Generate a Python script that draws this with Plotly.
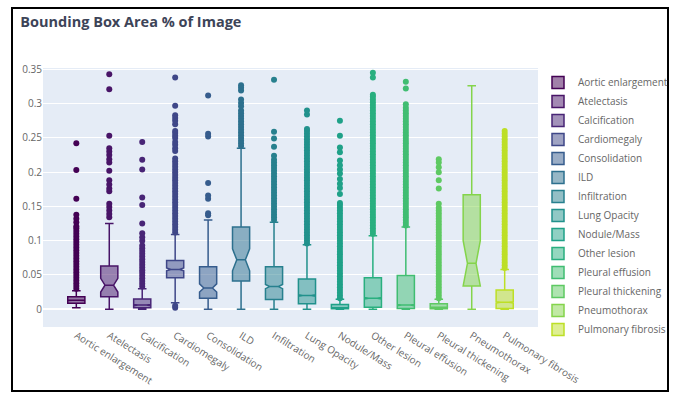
import plotly.graph_objects as go

categories = ["Aortic enlargement", "Atelectasis", "Calcification", "Cardiomegaly",
              "Consolidation", "ILD", "Infiltration", "Lung Opacity", "Nodule/Mass",
              "Other lesion", "Pleural effusion", "Pleural thickening", "Pneumothorax",
              "Pulmonary fibrosis"]

q1_vals = [0.0085, 0.018, 0.002, 0.046, 0.016, 0.041, 0.014, 0.008, 0.0005, 0.003, 0.001, 0.0005, 0.034, 0.001]
median_vals = [0.013, 0.035, 0.006, 0.058, 0.031, 0.072, 0.033, 0.020, 0.002, 0.016, 0.006, 0.003, 0.067, 0.010]
q3_vals = [0.018, 0.063, 0.015, 0.071, 0.062, 0.120, 0.062, 0.044, 0.007, 0.046, 0.049, 0.008, 0.167, 0.028]
lower_fences = [0.002, 0.0, 0.0, 0.0095, 0.0, 0.0, 0.0, 0.0, 0.0, 0.0, 0.0, 0.0, 0.0, 0.0]
upper_fences = [0.027, 0.125, 0.030, 0.109, 0.130, 0.235, 0.127, 0.094, 0.0145, 0.107, 0.120, 0.0145, 0.326, 0.058]
notch_spans = [0.0005, 0.010, 0.001, 0.002, 0.006, 0.016, 0.003, 0.001, 0.0003, 0.001, 0.001, 0.0003, 0.033, 0.001]

outliers_aortic = [0.030, 0.034, 0.038, 0.042, 0.046, 0.050, 0.054, 0.058, 0.062, 0.066, 0.070,
                   0.074, 0.078, 0.082, 0.086, 0.090, 0.094, 0.098, 0.102, 0.106, 0.110, 0.114,
                   0.118, 0.121, 0.127, 0.132, 0.138, 0.161, 0.203, 0.242]
outliers_atelectasis = [0.134, 0.139, 0.144, 0.149, 0.154, 0.172, 0.176, 0.182, 0.188, 0.202,
                        0.214, 0.219, 0.225, 0.230, 0.235, 0.253, 0.321, 0.343]
outliers_calcification = [0.033, 0.037, 0.041, 0.045, 0.049, 0.053, 0.057, 0.061, 0.065, 0.069,
                          0.073, 0.077, 0.081, 0.085, 0.089, 0.093, 0.100, 0.105, 0.111, 0.125,
                          0.152, 0.163, 0.204, 0.218, 0.244]
outliers_cardiomegaly = [0.002, 0.005, 0.112, 0.116, 0.120, 0.124, 0.128, 0.132, 0.136, 0.140,
                         0.144, 0.148, 0.152, 0.156, 0.160, 0.164, 0.168, 0.172, 0.176, 0.180,
                         0.184, 0.188, 0.192, 0.196, 0.200, 0.204, 0.208, 0.212, 0.216, 0.220,
                         0.231, 0.235, 0.240, 0.244, 0.250, 0.253, 0.257, 0.260, 0.270, 0.275,
                         0.279, 0.283, 0.297, 0.338]
outliers_consolidation = [0.137, 0.140, 0.161, 0.166, 0.184, 0.252, 0.256, 0.312]
outliers_ild = [0.238, 0.242, 0.246, 0.250, 0.254, 0.258, 0.262, 0.266, 0.270, 0.274, 0.278,
                0.282, 0.286, 0.290, 0.296, 0.301, 0.306, 0.319, 0.323, 0.327]
outliers_infiltration = [0.130, 0.134, 0.138, 0.142, 0.146, 0.150, 0.154, 0.158, 0.162, 0.166,
                         0.170, 0.174, 0.178, 0.182, 0.186, 0.190, 0.194, 0.198, 0.202, 0.206,
                         0.210, 0.214, 0.218, 0.224, 0.237, 0.249, 0.259, 0.335]
outliers_lung_opacity = [0.096, 0.100, 0.104, 0.108, 0.112, 0.116, 0.120, 0.124, 0.128, 0.132,
                         0.136, 0.140, 0.144, 0.148, 0.152, 0.156, 0.160, 0.164, 0.168, 0.172,
                         0.176, 0.180, 0.184, 0.188, 0.192, 0.196, 0.200, 0.204, 0.208, 0.212,
                         0.216, 0.220, 0.224, 0.228, 0.232, 0.236, 0.240, 0.244, 0.248, 0.252,
                         0.256, 0.260, 0.263, 0.284, 0.290]
outliers_nodule = [0.016, 0.020, 0.024, 0.028, 0.032, 0.036, 0.040, 0.044, 0.048, 0.052, 0.056,
                   0.060, 0.064, 0.068, 0.072, 0.076, 0.080, 0.084, 0.088, 0.092, 0.096, 0.100,
                   0.104, 0.108, 0.112, 0.116, 0.120, 0.124, 0.128, 0.132, 0.136, 0.140, 0.144,
                   0.148, 0.152, 0.155, 0.168, 0.177, 0.183, 0.190, 0.198, 0.204, 0.210, 0.217,
                   0.229, 0.236, 0.253, 0.275]
outliers_other_lesion = [0.110, 0.114, 0.118, 0.122, 0.126, 0.130, 0.134, 0.138, 0.142, 0.146,
                         0.150, 0.154, 0.158, 0.162, 0.166, 0.170, 0.174, 0.178, 0.182, 0.186,
                         0.190, 0.194, 0.198, 0.202, 0.206, 0.210, 0.214, 0.218, 0.222, 0.226,
                         0.230, 0.234, 0.238, 0.242, 0.246, 0.250, 0.254, 0.258, 0.262, 0.266,
                         0.270, 0.274, 0.278, 0.282, 0.286, 0.290, 0.294, 0.298, 0.302, 0.306,
                         0.310, 0.313, 0.338, 0.345]
outliers_pleural_effusion = [0.122, 0.126, 0.130, 0.134, 0.138, 0.142, 0.146, 0.150, 0.154,
                             0.158, 0.162, 0.166, 0.170, 0.174, 0.178, 0.182, 0.186, 0.190,
                             0.194, 0.198, 0.202, 0.206, 0.210, 0.214, 0.218, 0.222, 0.226,
                             0.230, 0.234, 0.238, 0.242, 0.246, 0.250, 0.254, 0.258, 0.262,
                             0.266, 0.270, 0.274, 0.278, 0.282, 0.286, 0.290, 0.294, 0.299,
                             0.322, 0.332]
outliers_pleural_thickening = [0.016, 0.020, 0.024, 0.028, 0.032, 0.036, 0.040, 0.044, 0.048,
                               0.052, 0.056, 0.060, 0.064, 0.068, 0.072, 0.076, 0.080, 0.084,
                               0.088, 0.092, 0.096, 0.100, 0.104, 0.108, 0.112, 0.116, 0.120,
                               0.124, 0.128, 0.132, 0.136, 0.140, 0.144, 0.148, 0.154, 0.176,
                               0.188, 0.200, 0.207, 0.214, 0.219]
outliers_pneumothorax = []
outliers_pulmonary_fibrosis = [0.060, 0.064, 0.068, 0.072, 0.076, 0.080, 0.084, 0.088, 0.092,
                               0.096, 0.100, 0.104, 0.108, 0.112, 0.116, 0.120, 0.124, 0.128,
                               0.132, 0.136, 0.140, 0.144, 0.148, 0.152, 0.156, 0.160, 0.164,
                               0.168, 0.172, 0.176, 0.180, 0.184, 0.188, 0.192, 0.196, 0.200,
                               0.204, 0.208, 0.212, 0.216, 0.220, 0.224, 0.228, 0.232, 0.236,
                               0.240, 0.244, 0.248, 0.252, 0.256, 0.260]

outliers = [outliers_aortic, outliers_atelectasis, outliers_calcification, outliers_cardiomegaly,
            outliers_consolidation, outliers_ild, outliers_infiltration, outliers_lung_opacity,
            outliers_nodule, outliers_other_lesion, outliers_pleural_effusion,
            outliers_pleural_thickening, outliers_pneumothorax, outliers_pulmonary_fibrosis]

y_ticks = [0, 0.05, 0.1, 0.15, 0.2, 0.25, 0.3, 0.35]
y_tick_labels = ["0", "0.05", "0.1", "0.15", "0.2", "0.25", "0.3", "0.35"]

colors = ["#440154", "#481467", "#482576", "#3f4788", "#365c8d", "#2d708e", "#27808e",
          "#21918c", "#1fa188", "#29af7f", "#40bd72", "#5ec962", "#84d44b", "#bddf26"]

fig = go.Figure()
for i, cat in enumerate(categories):
    pts = outliers[i]
    fig.add_trace(go.Box(
        name=cat,
        x=[cat],
        y=[pts] if len(pts) > 0 else None,
        q1=[q1_vals[i]],
        median=[median_vals[i]],
        q3=[q3_vals[i]],
        lowerfence=[lower_fences[i]],
        upperfence=[upper_fences[i]],
        notchspan=[notch_spans[i]],
        notched=True,
        orientation="v",
        boxpoints="outliers" if len(pts) > 0 else False,
        width=0.52,
        marker=dict(color=colors[i], size=6),
        line=dict(color=colors[i], width=1.5),
    ))

L, R, T, B = 43, 138, 68, 66
W, H = 676, 393
pw, ph = W - L - R, H - T - B

fig.add_shape(type="rect", xref="paper", yref="paper",
              x0=(12 - L) / pw, x1=(668 - L) / pw,
              y0=(H - B - 391) / ph, y1=(H - B - 8) / ph,
              line=dict(color="black", width=2), fillcolor="rgba(0,0,0,0)", layer="above")

fig.update_layout(
    template="plotly",
    width=W, height=H,
    margin=dict(l=L, r=R, t=T, b=B, autoexpand=False),
    font=dict(family="Open Sans, sans-serif", size=10, color="#555"),
    title=dict(text="<b>Bounding Box Area % of Image</b>", x=0.03, xanchor="left",
               y=0.945, yanchor="middle",
               font=dict(size=14.5, color="#3d4458")),
    showlegend=True,
    legend=dict(x=1.0, xanchor="left", yref="container", y=1 - 68 / H, yanchor="top",
                font=dict(size=10, color="#666"), bgcolor="rgba(0,0,0,0)"),
    xaxis=dict(tickangle=32, tickfont=dict(size=10, color="#666"), automargin=False,
               categoryorder="array", categoryarray=categories),
    yaxis=dict(range=[-0.026, 0.352], tickvals=y_ticks, ticktext=y_tick_labels,
               tickfont=dict(size=10, color="#666"), zeroline=True, automargin=False,
               zerolinecolor="white", zerolinewidth=2),
)
try:
    fig.update_layout(legend_maxheight=320)
except Exception:
    pass

fig.write_html("out.html")
